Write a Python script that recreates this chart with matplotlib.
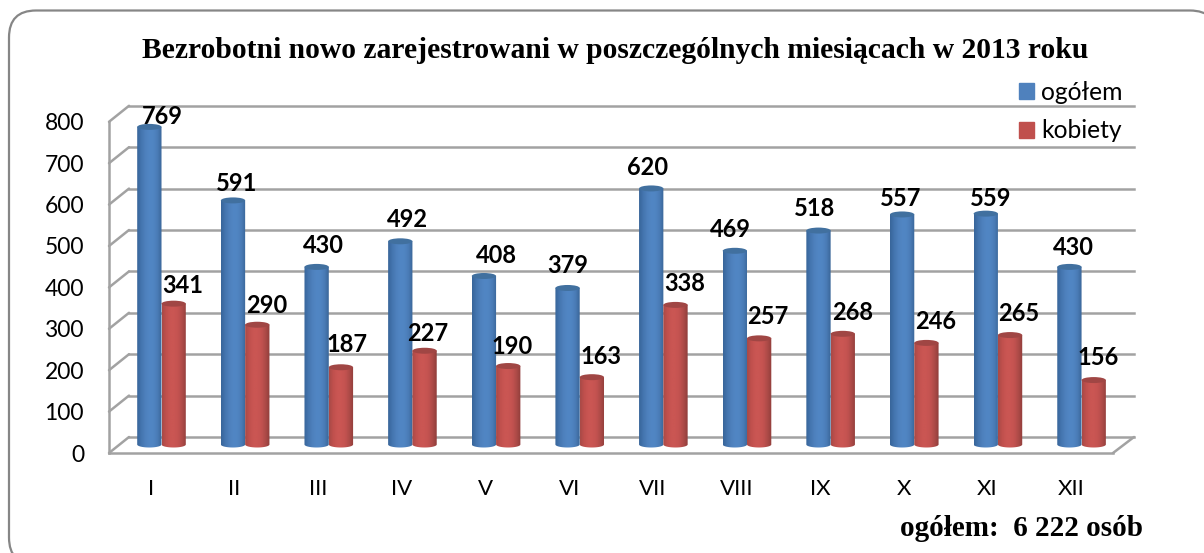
import numpy as np
import matplotlib
matplotlib.use("Agg")
import matplotlib.pyplot as plt
from matplotlib.colors import LinearSegmentedColormap
from matplotlib.patches import ConnectionPatch, Ellipse, FancyBboxPatch, Patch
from matplotlib.path import Path

months = ["I", "II", "III", "IV", "V", "VI", "VII", "VIII", "IX", "X", "XI", "XII"]
ogolem = [769, 591, 430, 492, 408, 379, 620, 469, 518, 557, 559, 430]
kobiety = [341, 290, 187, 227, 190, 163, 338, 257, 268, 246, 265, 156]
y_ticks = [0, 100, 200, 300, 400, 500, 600, 700, 800]
series_names = ["ogółem", "kobiety"]
title_text = "Bezrobotni nowo zarejestrowani w poszczególnych miesiącach w 2013 roku"
note_text = "ogółem:  6 222 osób"

# Hand placement of the value labels, in pixels from the top of each bar
ogolem_label_offsets = [(12.8, 12.9), (3.9, 19.4), (6.5, 23.9), (6.9, 24.3), (12.2, 22), (0.6, 24),
                        (-4, 23.4), (-4.7, 23.8), (-4.3, 23.6), (-2, 17.5), (5.4, 17.6), (3.8, 21.9)]
kobiety_label_offsets = [(9.5, 19.7), (9.9, 21.7), (6.2, 24.3), (3.6, 19.7), (4, 22), (9.3, 22.2),
                         (9.7, 23.9), (9, 23.4), (9.4, 23.8), (9.7, 23.9), (9.1, 24), (4.5, 24.1)]

W, H = 1204, 553
GRID = "#A2A2A2"
SANS = "Lato"
SERIF = "Liberation Serif"
BLUE = "#4F81BD"
RED = "#C0504D"
BLUE_TOP = "#41709F"
RED_TOP = "#A04644"
blue_cmap = LinearSegmentedColormap.from_list("b", ["#38659A", "#4475AF", "#4E80BC", "#5186C4", "#5085C2", "#4A7BB6", "#3A6698"])
red_cmap = LinearSegmentedColormap.from_list("r", ["#A84A47", "#C0504D", "#CA5653", "#CA5653", "#C25250", "#AC4A47", "#8F3D3B"])

fig = plt.figure(figsize=(W / 100, H / 100), dpi=100, facecolor="white")


def px_axes(left, bottom_px, width, height, **kw):
    return fig.add_axes([left / W, (H - bottom_px) / H, width / W, height / H], **kw)


# Rounded frame that runs off the right and bottom of the picture
bg = fig.add_axes([0, 0, 1, 1], zorder=0)
bg.set_xlim(0, W)
bg.set_ylim(H, 0)
bg.axis("off")
bg.add_patch(FancyBboxPatch((36, 37.5), 1154, 500, boxstyle="round,pad=27,rounding_size=27",
                            fc="white", ec="#868686", lw=1.6))

x_limits = (-0.5, 11.5)
y_limits = (0, 800)

# Back wall with the gridlines
ax_back = px_axes(129, 437, 1005, 331.2, zorder=1)
ax_back.set_xlim(x_limits)
ax_back.set_ylim(y_limits)
ax_back.patch.set_alpha(0)
for s in ax_back.spines.values():
    s.set_visible(False)
ax_back.set_xticks([])
ax_back.set_yticks(y_ticks)
ax_back.tick_params(left=False, labelleft=False)
ax_back.grid(True, axis="y", color=GRID, lw=1.8, clip_on=False)
ax_back.set_axisbelow(True)

# Front plane carrying the axes
ax_front = px_axes(109, 453, 1004, 331.2, zorder=2)
ax_front.set_xlim(x_limits)
ax_front.set_ylim(y_limits)
ax_front.patch.set_alpha(0)
for side in ("top", "right"):
    ax_front.spines[side].set_visible(False)
for side in ("left", "bottom"):
    ax_front.spines[side].set_color(GRID)
    ax_front.spines[side].set_linewidth(1.8)
ax_front.set_yticks(y_ticks)
ax_front.set_xticks(range(len(months)))
ax_front.set_xticklabels(months)
ax_front.tick_params(axis="y", length=0, pad=18, labelsize=16.5, labelcolor="black")
ax_front.tick_params(axis="x", length=0, pad=18.5, labelsize=16, labelcolor="black")
for lab in ax_front.get_xticklabels() + ax_front.get_yticklabels():
    lab.set_family(SANS)
for lab in ax_front.get_yticklabels():
    lab.set_verticalalignment("center_baseline")

for v in y_ticks:
    fig.add_artist(ConnectionPatch((0, v), (0, v), coordsA=ax_front.get_yaxis_transform(),
                                   coordsB=ax_back.get_yaxis_transform(), color=GRID, lw=1.8, zorder=1.5))
fig.add_artist(ConnectionPatch((1, 0), (1, 0), coordsA=ax_front.transAxes,
                               coordsB=ax_back.transAxes, color=GRID, lw=1.8, zorder=1.5))

# Cylinders
ax_bars = px_axes(119.68, 444.5, 1003.7, 330.4, zorder=3)
ax_bars.set_xlim(x_limits)
ax_bars.set_ylim(y_limits)
ax_bars.axis("off")

BAR_W = 0.2905
CAP = 14.5  # ellipse height in data units


def cylinders(values, shift, color, top_color, cmap, offsets, name):
    positions = np.arange(len(values)) + shift
    bars = ax_bars.bar(positions, values, BAR_W, color=color, label=name, zorder=3)
    theta = np.linspace(0, np.pi, 40)
    grad = np.linspace(0, 1, 64).reshape(1, -1)
    for bar, val, off in zip(bars, values, offsets):
        bar.set_visible(False)
        x0 = bar.get_x()
        x1 = x0 + bar.get_width()
        xc = (x0 + x1) / 2
        arc_x = xc + np.cos(theta) * (x1 - x0) / 2
        arc_y = -np.sin(theta) * CAP / 2
        verts = np.column_stack([np.r_[x0, x1, arc_x], np.r_[val, val, arc_y]])
        verts = np.vstack([verts, verts[0]])
        im = ax_bars.imshow(grad, cmap=cmap, extent=(x0, x1, -CAP, val), aspect="auto",
                            interpolation="bilinear", zorder=3)
        im.set_clip_box(fig.bbox)
        im.set_clip_path(Path(verts), ax_bars.transData)
        ax_bars.add_patch(Ellipse((xc, val), x1 - x0, CAP, fc=top_color, ec="none", zorder=3.1, clip_on=False))
        ax_bars.annotate(str(val), (xc, val), xytext=off, textcoords="offset pixels", ha="center",
                         va="center_baseline", family=SANS, weight="bold", fontsize=17, color="black",
                         zorder=5, annotation_clip=False)
    return bars


blue_bars = cylinders(ogolem, -BAR_W / 2, BLUE, BLUE_TOP, blue_cmap, ogolem_label_offsets, series_names[0])
red_bars = cylinders(kobiety, BAR_W / 2, RED, RED_TOP, red_cmap, kobiety_label_offsets, series_names[1])
ax_bars.set_xlim(x_limits)
ax_bars.set_ylim(y_limits)

# Legend
handles = [Patch(color=BLUE, label=series_names[0]), Patch(color=RED, label=series_names[1])]
leg = ax_bars.legend(handles=handles, loc="upper left", bbox_to_anchor=(1019 / W, (H - 81) / H),
                     bbox_transform=fig.transFigure, frameon=False, handlelength=0.61,
                     handleheight=0.61, handletextpad=0.3, labelspacing=0.63, borderaxespad=0, borderpad=0,
                     prop={"family": SANS, "size": 17.7})

fig.text(615 / W, 1 - 51 / H, title_text, family=SERIF, weight="bold", fontsize=21.3, ha="center", va="center", color="black")
fig.text(1143 / W, 1 - 528 / H, note_text, family=SERIF, weight="bold", fontsize=21, ha="right", va="center", color="black")

fig.savefig("out.png", dpi=100)
